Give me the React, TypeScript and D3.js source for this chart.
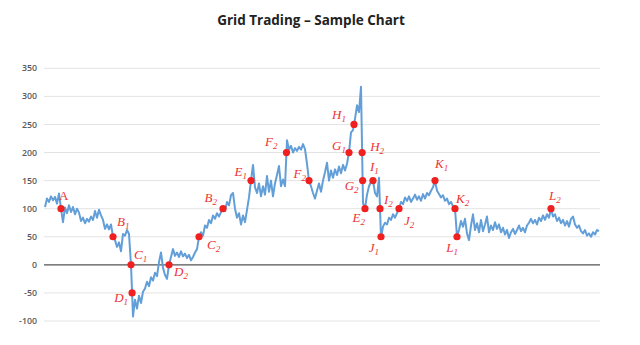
import React from "react";
import * as d3 from "d3";

const TITLE = "Grid Trading – Sample Chart";
const Y_TICKS = [-100, -50, 0, 50, 100, 150, 200, 250, 300, 350];

// Price series (one value per time step)
const PRICES: number[] = [
  103, 118, 112, 122, 115, 121, 109, 127, 100, 76,
  102, 92, 106, 94, 103, 90, 100, 93, 78, 84,
  74, 82, 77, 86, 80, 96, 84, 98, 88, 80,
  64, 72, 63, 72, 50, 44, 32, 40, 24, 55,
  52, 62, 55, 0, -92, -62, -78, -55, -68, -48,
  -42, -30, -38, -22, -28, -14, -20, 5, 22, -5,
  -18, -25, 0, 14, 28, 16, 22, 14, 24, 15,
  20, 12, 18, 8, 14, 22, 28, 50, 58, 52,
  70, 66, 80, 74, 88, 82, 92, 86, 94, 100,
  96, 112, 106, 124, 128, 100, 84, 92, 72, 88,
  76, 98, 120, 150, 178, 138, 128, 145, 122, 140,
  125, 158, 130, 150, 122, 145, 160, 176, 140, 152,
  140, 222, 205, 212, 200, 208, 203, 210, 205, 215,
  206, 180, 150, 140, 128, 118, 132, 145, 130, 150,
  165, 182, 150, 168, 155, 170, 160, 175, 163, 178,
  168, 180, 200, 236, 240, 260, 284, 272, 317, 110,
  100, 125, 140, 148, 150, 128, 122, 155, 48, 68,
  75, 72, 84, 80, 90, 84, 92, 100, 112, 108,
  120, 114, 122, 112, 118, 125, 116, 122, 114, 126,
  118, 128, 124, 132, 138, 150, 132, 126, 120, 124,
  114, 118, 108, 112, 104, 100, 50, 62, 78, 68,
  82, 56, 44, 70, 90, 62, 74, 58, 80, 60,
  72, 86, 58, 70, 62, 76, 64, 72, 58, 66,
  54, 62, 48, 58, 64, 55, 62, 70, 60, 66,
  58, 70, 75, 82, 74, 80, 72, 84, 78, 88,
  80, 90, 84, 100, 86, 90, 78, 84, 74, 80,
  70, 78, 68, 82, 86, 72, 66, 70, 60, 56,
  62, 52, 56, 50, 58, 54, 62, 60,
];

// Grid-trade markers: letter, subscript, time index, price level
const MARK_LETTERS = ["A", "B", "C", "D", "D", "C", "B", "E", "F", "F", "G", "H", "H", "G", "I", "E", "I", "J", "J", "K", "K", "L", "L"];
const MARK_SUBS = ["", "1", "1", "1", "2", "2", "2", "1", "2", "2", "1", "1", "2", "2", "1", "2", "2", "1", "2", "1", "2", "1", "2"];
const MARK_INDEX = [8, 34, 43, 43.54, 62, 77, 89, 103, 120.73, 132, 152, 154.5, 158.57, 158.81, 164, 160, 167.51, 168, 177, 195, 205, 206, 253];
const MARK_VALUE = [100, 50, 0, -50, 0, 50, 100, 150, 200, 150, 200, 250, 200, 150, 150, 100, 100, 50, 100, 150, 100, 50, 100];

// label placement relative to marker: [dx, dy, anchor]
const LABEL_LAYOUT: [number, number, string][] = [
  [-2, -9, "start"],
  [4, -11, "start"],
  [3, -6, "start"],
  [-4, 9, "end"],
  [5, 11, "start"],
  [8, 12, "start"],
  [-6, -7, "end"],
  [-4, -5, "end"],
  [-9, -7, "end"],
  [-3, -3, "end"],
  [-3, -3, "end"],
  [-8, -5, "end"],
  [8, -2, "start"],
  [-4, 9, "end"],
  [-3, -10, "start"],
  [0, 13, "end"],
  [4, -5, "start"],
  [-2, 15, "end"],
  [5, 16, "start"],
  [0, -13, "start"],
  [1, -6, "start"],
  [1, 15, "end"],
  [-2, -9, "start"],
];

const W = 640;
const H = 345;

export default function App() {
  const x = d3.scaleLinear().domain([0, PRICES.length - 1]).range([45, 599]);
  const y = d3.scaleLinear().domain([-100, 350]).range([321, 68.3]);
  const line = d3
    .line<number>()
    .x((_, i) => x(i))
    .y((d) => y(d));

  return (
    <svg
      width={W}
      height={H}
      style={{ position: "absolute", left: 0, top: 0, background: "#fff" }}
    >
      <text
        x={311}
        y={25}
        textAnchor="middle"
        fontFamily="'Open Sans', sans-serif"
        fontWeight={700}
        fontSize={13.5}
        fill="#222"
      >
        {TITLE}
      </text>
      {Y_TICKS.map((t) => (
        <g key={t}>
          <line
            x1={44}
            x2={600}
            y1={y(t)}
            y2={y(t)}
            stroke={t === 0 ? "#555" : "#e3e3e3"}
            strokeWidth={t === 0 ? 1.3 : 1}
          />
          <text
            x={37}
            y={y(t)}
            dy="0.35em"
            textAnchor="end"
            fontFamily="'Open Sans', sans-serif"
            fontWeight={600}
            fontSize={8.8}
            fill="#595959"
          >
            {t}
          </text>
        </g>
      ))}
      <path
        d={line(PRICES) || ""}
        fill="none"
        stroke="#629fd8"
        strokeWidth={2}
        strokeLinejoin="round"
      />
      {MARK_INDEX.map((mi, k) => {
        const cx = x(mi);
        const cy = y(MARK_VALUE[k]);
        const [dx, dy, anchor] = LABEL_LAYOUT[k];
        const upright = MARK_SUBS[k] === "";
        return (
          <g key={k}>
            <circle cx={cx} cy={cy} r={3.6} fill="#f02020" />
            <text
              x={cx + dx}
              y={cy + dy}
              textAnchor={anchor}
              fontFamily="'Liberation Serif', serif"
              fontStyle={upright ? "normal" : "italic"}
              fontSize={13}
              fill="#ee3333"
            >
              {MARK_LETTERS[k]}
              {MARK_SUBS[k] && (
                <tspan fontSize={9} dy={3}>
                  {MARK_SUBS[k]}
                </tspan>
              )}
            </text>
          </g>
        );
      })}
    </svg>
  );
}
